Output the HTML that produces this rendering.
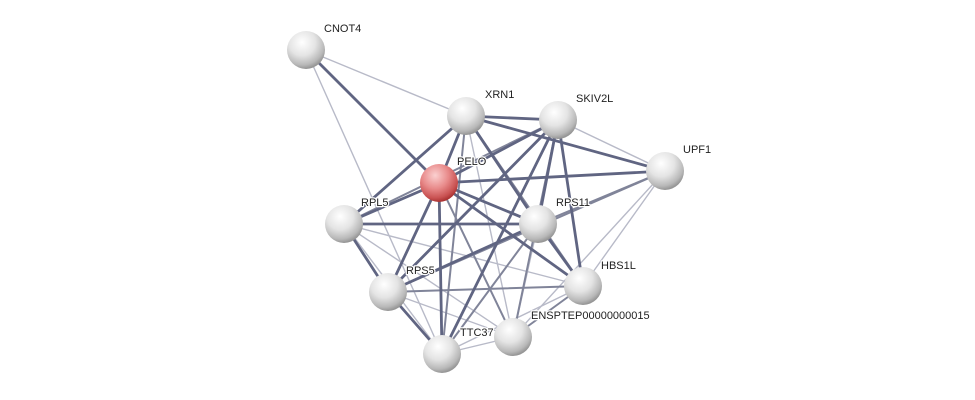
<!DOCTYPE html>
<html><head><meta charset="utf-8"><style>
html,body{margin:0;padding:0;background:#fff;}
svg{display:block;}
text{font-family:"Liberation Sans",sans-serif;font-size:11px;fill:#222;paint-order:stroke;stroke:#fff;stroke-width:2.5px;stroke-linejoin:round;}
</style></head><body>
<svg width="975" height="400" viewBox="0 0 975 400" xmlns="http://www.w3.org/2000/svg">
<defs>
<radialGradient id="g" cx="40%" cy="30%" r="70%">
<stop offset="0" stop-color="#ffffff"/><stop offset="0.5" stop-color="#e4e4e4"/><stop offset="0.85" stop-color="#b8b8b8"/><stop offset="1" stop-color="#959595"/>
</radialGradient>
<radialGradient id="r" cx="40%" cy="30%" r="70%">
<stop offset="0" stop-color="#fbd0d0"/><stop offset="0.5" stop-color="#e88a8a"/><stop offset="0.85" stop-color="#c95252"/><stop offset="1" stop-color="#a33"/>
</radialGradient>
</defs>
<g stroke-linecap="round">
<g stroke="#b8bac8" stroke-width="1.4">
<line x1="306" y1="50" x2="466" y2="116"/>
<line x1="306" y1="50" x2="442" y2="354"/>
<line x1="466" y1="116" x2="513" y2="337"/>
<line x1="558" y1="120" x2="665" y2="171"/>
<line x1="665" y1="171" x2="513" y2="337"/>
<line x1="665" y1="171" x2="583" y2="286"/>
<line x1="344" y1="224" x2="583" y2="286"/>
<line x1="344" y1="224" x2="513" y2="337"/>
<line x1="388" y1="292" x2="513" y2="337"/>
<line x1="538" y1="224" x2="513" y2="337"/>
<line x1="344" y1="224" x2="442" y2="354"/>
<line x1="583" y1="286" x2="442" y2="354"/>
<line x1="513" y1="337" x2="442" y2="354"/>
</g>
<g stroke="#808499" stroke-width="2">
<line x1="665" y1="171" x2="538" y2="224"/>
<line x1="665" y1="171" x2="388" y2="292"/>
<line x1="558" y1="120" x2="344" y2="224"/>
<line x1="466" y1="116" x2="583" y2="286"/>
<line x1="538" y1="224" x2="442" y2="354"/>
<line x1="388" y1="292" x2="583" y2="286"/>
<line x1="583" y1="286" x2="513" y2="337"/>
<line x1="439" y1="183" x2="513" y2="337"/>
<line x1="558" y1="120" x2="513" y2="337"/>
<line x1="466" y1="116" x2="442" y2="354"/>
</g>
<g stroke="#606582" stroke-width="2.8">
<line x1="306" y1="50" x2="439" y2="183"/>
<line x1="466" y1="116" x2="558" y2="120"/>
<line x1="466" y1="116" x2="665" y2="171"/>
<line x1="466" y1="116" x2="439" y2="183"/>
<line x1="466" y1="116" x2="538" y2="224"/>
<line x1="466" y1="116" x2="344" y2="224"/>
<line x1="558" y1="120" x2="439" y2="183"/>
<line x1="558" y1="120" x2="538" y2="224"/>
<line x1="558" y1="120" x2="583" y2="286"/>
<line x1="558" y1="120" x2="388" y2="292"/>
<line x1="558" y1="120" x2="442" y2="354"/>
<line x1="665" y1="171" x2="439" y2="183"/>
<line x1="439" y1="183" x2="344" y2="224"/>
<line x1="439" y1="183" x2="538" y2="224"/>
<line x1="439" y1="183" x2="583" y2="286"/>
<line x1="439" y1="183" x2="388" y2="292"/>
<line x1="439" y1="183" x2="442" y2="354"/>
<line x1="344" y1="224" x2="538" y2="224"/>
<line x1="344" y1="224" x2="388" y2="292"/>
<line x1="538" y1="224" x2="388" y2="292"/>
<line x1="538" y1="224" x2="583" y2="286"/>
<line x1="388" y1="292" x2="442" y2="354"/>
</g>
</g>
<g>
<circle cx="306" cy="50" r="19" fill="url(#g)"/>
<circle cx="466" cy="116" r="19" fill="url(#g)"/>
<circle cx="558" cy="120" r="19" fill="url(#g)"/>
<circle cx="665" cy="171" r="19" fill="url(#g)"/>
<circle cx="439" cy="183" r="19" fill="url(#r)"/>
<circle cx="344" cy="224" r="19" fill="url(#g)"/>
<circle cx="538" cy="224" r="19" fill="url(#g)"/>
<circle cx="583" cy="286" r="19" fill="url(#g)"/>
<circle cx="388" cy="292" r="19" fill="url(#g)"/>
<circle cx="513" cy="337" r="19" fill="url(#g)"/>
<circle cx="442" cy="354" r="19" fill="url(#g)"/>
</g>
<text x="324" y="32">CNOT4</text>
<text x="485" y="98">XRN1</text>
<text x="576" y="102">SKIV2L</text>
<text x="683" y="153">UPF1</text>
<text x="457" y="165">PELO</text>
<text x="361" y="206">RPL5</text>
<text x="556" y="206">RPS11</text>
<text x="601" y="269">HBS1L</text>
<text x="406" y="274">RPS5</text>
<text x="531" y="319">ENSPTEP00000000015</text>
<text x="460" y="336">TTC37</text>
</svg>
</body></html>
